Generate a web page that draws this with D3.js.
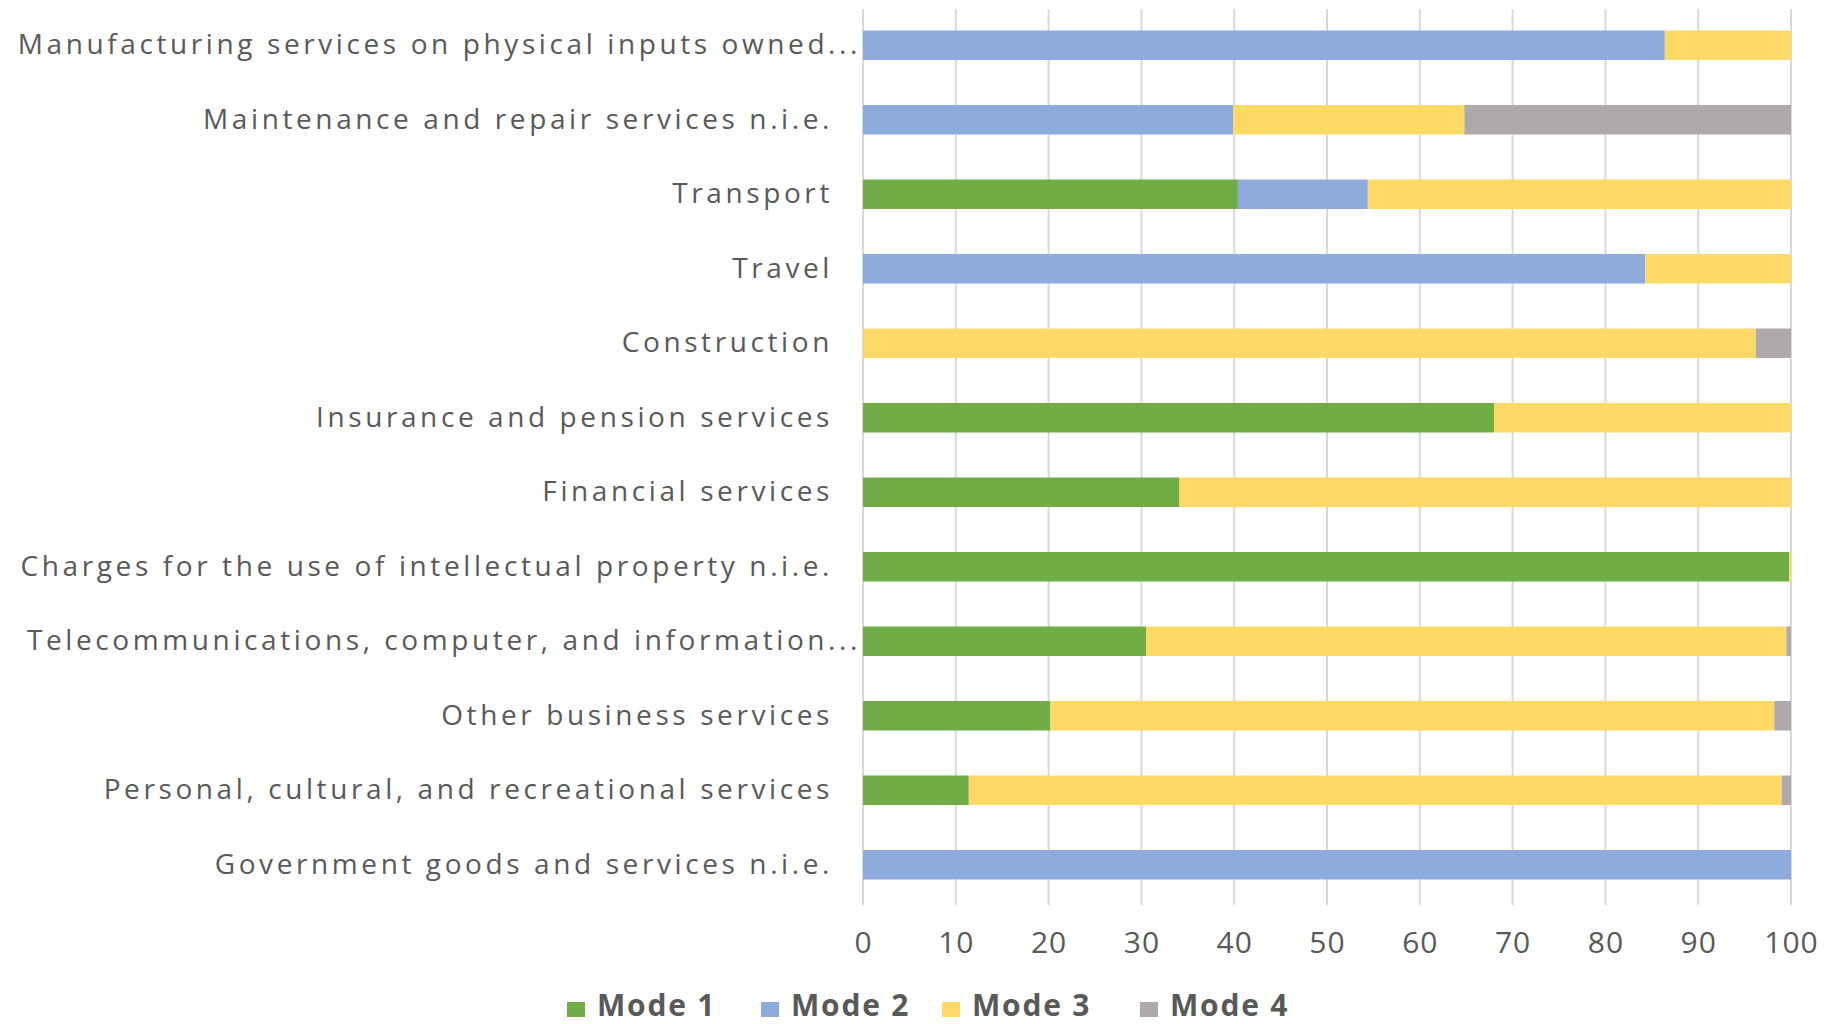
<!DOCTYPE html>
<html><head><meta charset="utf-8">
<script src="https://cdn.jsdelivr.net/npm/d3@7"></script>
<style>
html,body{margin:0;padding:0;background:#fff;}
svg{display:block;font-family:"Open Sans",sans-serif;}
</style></head>
<body>
<svg id="chart" width="1826" height="1024"></svg>
<script>
const categories = [
  "Manufacturing services on physical inputs owned...",
  "Maintenance and repair services n.i.e.",
  "Transport",
  "Travel",
  "Construction",
  "Insurance and pension services",
  "Financial services",
  "Charges for the use of intellectual property n.i.e.",
  "Telecommunications, computer, and information...",
  "Other business services",
  "Personal, cultural, and recreational services",
  "Government goods and services n.i.e."
];
const seriesNames = ["Mode 1","Mode 2","Mode 3","Mode 4"];
const mode1 = [0, 0, 40.4, 0, 0, 68.0, 34.1, 99.8, 30.5, 20.2, 11.4, 0];
const mode2 = [86.4, 39.9, 14.0, 84.3, 0, 0, 0, 0, 0, 0, 0, 100];
const mode3 = [13.6, 24.9, 45.6, 15.7, 96.2, 32.0, 65.9, 0.2, 69.0, 78.0, 87.6, 0];
const mode4 = [0, 35.2, 0, 0, 3.8, 0, 0, 0, 0.5, 1.8, 1.0, 0];
const xTicks = [0,10,20,30,40,50,60,70,80,90,100];
const colors = ["#70AD47","#8FAADC","#FFD966","#AEAAAA"];

const rows = categories.map((c,i)=>({cat:c, "Mode 1":mode1[i], "Mode 2":mode2[i], "Mode 3":mode3[i], "Mode 4":mode4[i]}));
const stack = d3.stack().keys(seriesNames)(rows);

const svg = d3.select("#chart");
const x = d3.scaleLinear().domain([0,100]).range([863,1791]);
const y = d3.scaleBand().domain(categories).range([8,902]).paddingInner(0.604).paddingOuter(0.302);

// gridlines
svg.append("g").selectAll("line").data(xTicks).join("line")
  .attr("x1",d=>x(d)).attr("x2",d=>x(d)).attr("y1",9).attr("y2",905)
  .attr("stroke","#d9d9d9").attr("stroke-width",2);

// bars
svg.append("g").selectAll("g").data(stack).join("g")
  .attr("fill",(d,i)=>colors[i])
  .selectAll("rect").data(d=>d).join("rect")
  .attr("x",d=>x(d[0])).attr("width",d=>Math.max(0,x(d[1])-x(d[0])))
  .attr("y",d=>y(d.data.cat)).attr("height",y.bandwidth());

// category labels
const lab = svg.append("g").attr("fill","#595959").attr("font-size",28);
lab.selectAll("text").data(categories).join("text")
  .attr("x",d=>d.endsWith("...")?861:833)
  .attr("y",d=>y(d)+y.bandwidth()/2 - 1)
  .attr("dy","0.35em").attr("text-anchor","end")
  .attr("letter-spacing",3.6)
  .text(d=>d);

// x axis
const ax = svg.append("g").attr("transform","translate(0,905)")
  .call(d3.axisBottom(x).tickValues(xTicks).tickSize(0).tickPadding(27));
ax.select(".domain").remove();
ax.selectAll("text").attr("font-size",30).attr("fill","#595959").attr("font-family","Open Sans").attr("letter-spacing",1);

// legend
const legX = [567,761,942,1140];
const leg = svg.append("g").selectAll("g").data(seriesNames).join("g")
  .attr("transform",(d,i)=>`translate(${legX[i]},1016)`);
leg.append("rect").attr("x",0).attr("y",-14).attr("width",18).attr("height",15).attr("fill",(d,i)=>colors[i]);
leg.append("text").attr("x",30).attr("font-size",30).attr("font-weight","bold").attr("letter-spacing",1.8).attr("fill","#595959").text(d=>d);
</script>
</body></html>
